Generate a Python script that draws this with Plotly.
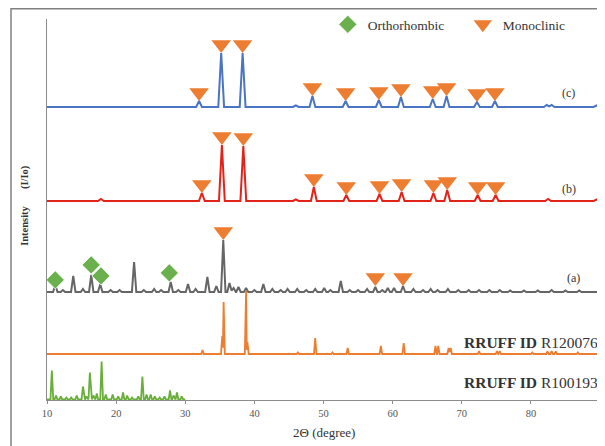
import plotly.graph_objects as go

# ---------------- data ----------------
# intensity units: arbitrary, each pattern stacked with an offset
x_ticks = [10, 20, 30, 40, 50, 60, 70, 80, 90]

# (c) sample
c_pos = [32.0, 35.2, 38.3, 46.0, 48.4, 53.2, 58.0, 61.2, 65.8, 67.8, 72.2, 74.8, 82.3, 83.0, 89.5]
c_hts = [6, 54, 54, 1.5, 11, 6, 7, 10, 8, 11, 5, 6, 2, 2, 1.5]
# (b) sample
b_pos = [17.8, 32.4, 35.3, 38.4, 46.0, 48.6, 53.3, 58.1, 61.3, 65.9, 67.9, 72.3, 74.9, 82.5, 89.5]
b_hts = [2, 8, 56, 55, 1.5, 14, 6, 7, 9, 8, 11, 6, 6, 2, 1.5]
# (a) sample
a_pos = [11.2, 12.3, 13.8, 15.2, 16.4, 17.7, 19.2, 20.5, 22.6, 24.0, 25.5, 26.5, 27.9,
         29.0, 30.4, 31.5, 33.2, 34.5, 35.5, 36.4, 37.0, 37.7, 38.8, 40.0, 41.3, 42.6,
         43.8, 44.8, 46.2, 47.5, 48.8, 50.1, 51.0, 52.5, 53.8, 55.0, 56.3, 57.5, 58.5,
         59.3, 60.2, 61.5, 63.0, 64.4, 65.5, 66.5, 68.0, 69.5, 71.0, 72.5, 74.0, 75.5,
         77.0, 79.0, 81.0, 83.0, 85.0, 87.0]
a_hts = [7, 2, 16, 3, 17, 8, 2, 2, 30, 2, 3, 2, 10,
         2, 8, 3, 15, 6, 52, 9, 4, 5, 4, 2, 8, 3,
         2, 3, 3, 2, 3, 4, 2, 11, 2, 2, 3, 5, 2,
         4, 4, 6, 3, 2, 3, 2, 3, 2, 2, 2, 2, 2,
         1.5, 1.5, 1.5, 2, 1.5, 1.5]
# RRUFF R120076 (monoclinic reference)
r1_pos = [32.5, 35.35, 35.55, 38.8, 39.0, 46.3, 48.8, 51.3, 53.5, 58.3, 61.6, 66.2, 66.6,
          68.1, 68.4, 72.5, 75.1, 75.5, 80.2, 82.4, 83.0, 83.6, 86.8]
r1_hts = [4, 18, 52, 63, 12, 1.5, 16, 1.5, 6, 8, 11, 8, 8,
          6, 6, 3, 3, 3, 1.5, 2.5, 3, 2.5, 1.5]
# RRUFF R100193 (orthorhombic reference), 10-30 degrees only
r2_pos = [10.7, 11.3, 12.0, 12.8, 13.5, 14.3, 15.2, 15.7, 16.2, 16.7, 17.2, 17.9, 18.5,
          19.5, 20.3, 21.0, 21.6, 22.3, 23.2, 23.8, 24.4, 25.0, 25.6, 26.3, 27.0, 27.8,
          28.3, 28.8, 29.5]
r2_hts = [29, 4, 3, 2, 2, 4, 13, 3, 27, 4, 6, 38, 5,
          5, 3, 7, 4, 2, 3, 23, 5, 5, 3, 2, 3, 9,
          4, 7, 3]
r2_end = 30.0

# stacking offsets
offsets = {"c": 293, "b": 199, "a": 108, "r1": 46, "r2": 0.5}

# phase marks: (pattern, 2theta, level of the peak they sit on)
mono_pat = ["c"] * 11 + ["b"] * 11 + ["a"] * 3
mono_pos = [32.0, 35.2, 38.3, 48.4, 53.2, 58.0, 61.2, 65.8, 67.8, 72.2, 74.8,
            32.4, 35.3, 38.4, 48.6, 53.3, 58.1, 61.3, 65.9, 67.9, 72.3, 74.9,
            35.5, 57.5, 61.5]
mono_lvl = [6, 54, 54, 11, 6, 7, 10, 8, 11, 5, 6,
            8, 56, 55, 14, 6, 7, 9, 8, 11, 6, 6,
            52, 6, 6]
ortho_pat = ["a", "a", "a", "a"]
ortho_pos = [11.2, 16.4, 17.8, 27.7]
ortho_lvl = [3, 18, 7, 10]

labels = ["(c)", "(b)", "(a)"]
label_pos = [85.4, 85.5, 86.2]
label_lvl = [14, 12, 14]

ref_names = ["<b>RRUFF ID</b> R120076", "<b>RRUFF ID</b> R100193"]
ref_lvl = [12, 17]

# ---------------- helpers ----------------
def profile(pos, hts, w, start=10.0, end=90.0):
    xs, ys = [start], [0.0]
    pk = sorted(zip(pos, hts))
    for i, (p, h) in enumerate(pk):
        if p - w > xs[-1]:
            xs.append(p - w); ys.append(0.0)
        else:
            prev_p, prev_h = pk[i - 1]
            xs[-1] = (prev_p + p) / 2
            ys[-1] = 0.35 * min(prev_h, h)
        xs.append(p); ys.append(h)
        xs.append(p + w); ys.append(0.0)
    if xs[-1] < end:
        xs.append(end); ys.append(0.0)
    return xs, ys

SERIF = "Liberation Serif"
TRI = 17
DIA = 14

fig = go.Figure()

series = [
    ("c", c_pos, c_hts, 0.42, "#4A74C4", 2.0, 10, 90),
    ("b", b_pos, b_hts, 0.42, "#E2231A", 2.0, 10, 90),
    ("a", a_pos, a_hts, 0.32, "#666666", 2.0, 10, 90),
    ("r1", r1_pos, r1_hts, 0.18, "#ED7D31", 1.8, 10, 90),
    ("r2", r2_pos, r2_hts, 0.2, "#6AAE3A", 1.8, 10, r2_end),
]
for key, pos, hts, w, col, lw, s, e in series:
    xs, ys = profile(pos, hts, w, s, e)
    fig.add_trace(go.Scatter(
        x=xs, y=[v + offsets[key] for v in ys], mode="lines",
        line=dict(color=col, width=lw), showlegend=False, hoverinfo="skip"))

fig.add_trace(go.Scatter(
    x=ortho_pos,
    y=[offsets[p] + l + 0.65 * DIA for p, l in zip(ortho_pat, ortho_lvl)],
    mode="markers", name="Orthorhombic",
    marker=dict(symbol="diamond", size=DIA, color="#6AB04C",
                line=dict(color="white", width=0.8))))
fig.add_trace(go.Scatter(
    x=mono_pos,
    y=[offsets[p] + l + TRI / 2 for p, l in zip(mono_pat, mono_lvl)],
    mode="markers", name="Monoclinic",
    marker=dict(symbol="triangle-down", size=TRI, color="#ED7D31",
                line=dict(width=0))))

ann = []
for t, xp, lv, k in zip(labels, label_pos, label_lvl, ["c", "b", "a"]):
    ann.append(dict(x=xp, y=offsets[k] + lv, xref="x", yref="y", text=t,
                    showarrow=False, font=dict(family=SERIF, size=12, color="#333")))
for t, lv, k in zip(ref_names, ref_lvl, ["r1", "r2"]):
    ann.append(dict(x=90, y=offsets[k] + lv, xref="x", yref="y", text=t,
                    xanchor="right", showarrow=False,
                    font=dict(family=SERIF, size=15.5, color="#333")))
ann.append(dict(x=0.5, y=-0.084, xref="paper", yref="paper", text="2Θ (degree)",
                xanchor="center", yanchor="middle",
                showarrow=False, font=dict(family=SERIF, size=13, color="#333")))
ann.append(dict(x=-0.0398, y=0.457, xref="paper", yref="paper", text="<b>Intensity</b>",
                xanchor="center", yanchor="middle",
                textangle=-90, showarrow=False, font=dict(family=SERIF, size=10.5, color="#333")))
ann.append(dict(x=-0.0398, y=0.585, xref="paper", yref="paper", text="<b>(I/Io)</b>",
                xanchor="center", yanchor="middle",
                textangle=-90, showarrow=False, font=dict(family=SERIF, size=10.5, color="#333")))

# page body has an 8px margin: figure is sized to the remaining viewport
fig.update_layout(
    width=597, height=438,
    margin=dict(l=39, r=5, t=11, b=46, autoexpand=False),
    paper_bgcolor="white", plot_bgcolor="white",
    xaxis=dict(range=[10, 90], tickvals=x_ticks, showline=True, linecolor="#8C8C8C",
               linewidth=1, ticks="outside", ticklen=3, tickcolor="#8C8C8C",
               showgrid=False, zeroline=False,
               tickfont=dict(family=SERIF, size=10.5, color="#555")),
    yaxis=dict(range=[0, 381], showline=True, linecolor="#8C8C8C", linewidth=1,
               showticklabels=False, ticks="", showgrid=False, zeroline=False),
    legend=dict(orientation="h", x=0.5078, y=1.026, xanchor="left", yanchor="top",
                font=dict(family=SERIF, size=13.5, color="#333"),
                bgcolor="rgba(0,0,0,0)", entrywidth=90, entrywidthmode="pixels"),
    annotations=ann,
    shapes=[dict(type="rect", xref="paper", yref="paper",
                 x0=-0.0651, x1=1.03, y0=-0.14, y1=1.027,
                 line=dict(color="#808080", width=1.5))],
)

fig.write_html("out.html")
